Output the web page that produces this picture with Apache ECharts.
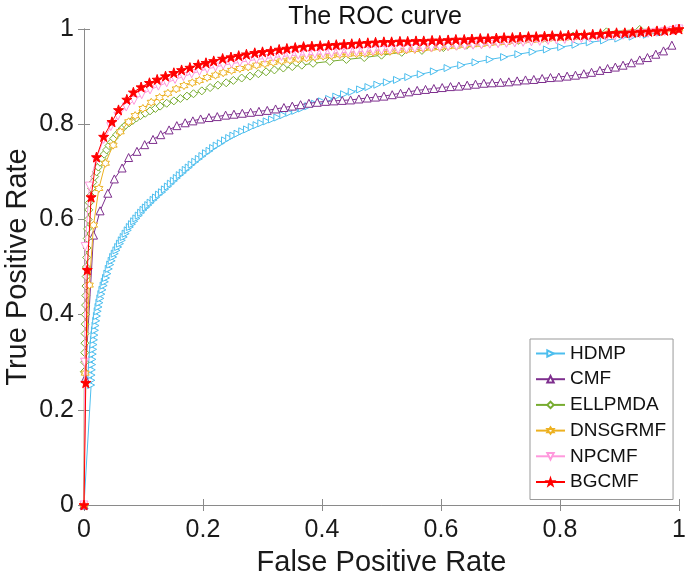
<!DOCTYPE html>
<html>
<head>
    <meta charset="utf-8">
    <title>The ROC curve</title>
    <script src="https://cdn.jsdelivr.net/npm/echarts@6/dist/echarts.min.js"></script>
    <style>
        html, body { margin: 0; padding: 0; background: #fff; }
        #main { width: 685px; height: 577px; }
    </style>
</head>
<body>
<div id="main"></div>
<script type="text/javascript">
    // 数据 [FPR, TPR]
    var names = ['HDMP', 'CMF', 'ELLPMDA', 'DNSGRMF', 'NPCMF', 'BGCMF'];
    var xTicks = [0, 0.2, 0.4, 0.6, 0.8, 1];
    var yTicks = [0, 0.2, 0.4, 0.6, 0.8, 1];

    var hdmp = [[0,0],[0.012,0.252],[0.0123,0.262],[0.0127,0.273],[0.0131,0.284],[0.0136,0.295],[0.0141,0.306],[0.0147,0.317],[0.0153,0.327],[0.016,0.337],[0.0167,0.347],[0.0175,0.357],[0.0184,0.367],[0.0194,0.377],[0.0205,0.387],[0.0217,0.397],[0.023,0.407],[0.0244,0.416],[0.0259,0.425],[0.0275,0.434],[0.0292,0.443],[0.031,0.452],[0.033,0.461],[0.035,0.469],[0.037,0.477],[0.0393,0.486],[0.0416,0.496],[0.044,0.505],[0.0465,0.513],[0.049,0.521],[0.0517,0.528],[0.0545,0.535],[0.0574,0.542],[0.0604,0.549],[0.0635,0.556],[0.0667,0.563],[0.07,0.570],[0.0735,0.577],[0.077,0.584],[0.0806,0.590],[0.0843,0.596],[0.088,0.602],[0.092,0.608],[0.096,0.614],[0.100,0.620],[0.104,0.625],[0.108,0.630],[0.112,0.635],[0.117,0.641],[0.121,0.646],[0.126,0.652],[0.131,0.657],[0.136,0.663],[0.141,0.669],[0.146,0.675],[0.151,0.681],[0.156,0.687],[0.161,0.693],[0.166,0.698],[0.171,0.704],[0.176,0.709],[0.181,0.715],[0.187,0.721],[0.193,0.727],[0.199,0.733],[0.205,0.739],[0.211,0.744],[0.217,0.750],[0.223,0.755],[0.230,0.760],[0.237,0.766],[0.244,0.771],[0.251,0.776],[0.258,0.780],[0.266,0.785],[0.274,0.789],[0.282,0.794],[0.290,0.798],[0.298,0.802],[0.307,0.806],[0.316,0.810],[0.325,0.814],[0.335,0.819],[0.345,0.824],[0.355,0.828],[0.366,0.833],[0.377,0.838],[0.388,0.843],[0.400,0.848],[0.412,0.853],[0.424,0.858],[0.437,0.863],[0.450,0.868],[0.464,0.873],[0.478,0.878],[0.493,0.883],[0.509,0.888],[0.526,0.893],[0.545,0.899],[0.566,0.905],[0.588,0.911],[0.611,0.918],[0.634,0.924],[0.658,0.930],[0.682,0.936],[0.706,0.941],[0.730,0.947],[0.754,0.952],[0.778,0.957],[0.802,0.962],[0.826,0.967],[0.850,0.972],[0.874,0.976],[0.898,0.980],[0.922,0.984],[0.946,0.988],[0.970,0.993],[1,1]];

    var cmf = [[0,0],[0.002,0.266],[0.016,0.567],[0.027,0.618],[0.040,0.655],[0.051,0.685],[0.064,0.708],[0.075,0.730],[0.089,0.743],[0.102,0.757],[0.116,0.768],[0.129,0.778],[0.143,0.788],[0.156,0.797],[0.170,0.803],[0.183,0.807],[0.196,0.811],[0.210,0.814],[0.224,0.816],[0.238,0.819],[0.252,0.821],[0.266,0.823],[0.280,0.825],[0.294,0.827],[0.308,0.829],[0.322,0.832],[0.336,0.835],[0.350,0.838],[0.364,0.841],[0.378,0.844],[0.392,0.846],[0.406,0.848],[0.420,0.849],[0.434,0.850],[0.448,0.851],[0.462,0.853],[0.476,0.855],[0.490,0.857],[0.504,0.859],[0.518,0.862],[0.532,0.865],[0.546,0.868],[0.560,0.871],[0.574,0.873],[0.588,0.875],[0.602,0.877],[0.616,0.879],[0.630,0.880],[0.644,0.882],[0.658,0.884],[0.672,0.886],[0.686,0.887],[0.700,0.888],[0.714,0.889],[0.728,0.891],[0.742,0.893],[0.756,0.894],[0.770,0.896],[0.784,0.898],[0.798,0.899],[0.812,0.901],[0.826,0.903],[0.840,0.906],[0.853,0.909],[0.867,0.913],[0.880,0.917],[0.893,0.920],[0.906,0.924],[0.920,0.929],[0.934,0.935],[0.947,0.940],[0.961,0.947],[0.974,0.954],[0.988,0.966]];

    var ellpmda = [[0,0],[0.0005,0.28],[0.001,0.30],[0.0012,0.32],[0.0015,0.34],[0.0018,0.36],[0.002,0.38],[0.0023,0.40],[0.0026,0.42],[0.003,0.44],[0.0033,0.46],[0.0037,0.48],[0.004,0.50],[0.0045,0.52],[0.005,0.54],[0.0055,0.56],[0.006,0.58],[0.007,0.60],[0.008,0.62],[0.009,0.635],[0.011,0.65],[0.013,0.665],[0.015,0.678],[0.018,0.69],[0.021,0.70],[0.024,0.71],[0.027,0.72],[0.030,0.728],[0.034,0.737],[0.038,0.746],[0.042,0.755],[0.046,0.762],[0.050,0.770],[0.055,0.778],[0.060,0.785],[0.065,0.792],[0.070,0.798],[0.076,0.803],[0.082,0.808],[0.088,0.813],[0.095,0.818],[0.103,0.823],[0.111,0.828],[0.120,0.833],[0.128,0.838],[0.139,0.844],[0.151,0.849],[0.162,0.854],[0.173,0.859],[0.184,0.864],[0.198,0.870],[0.212,0.877],[0.225,0.882],[0.239,0.887],[0.251,0.892],[0.265,0.897],[0.279,0.901],[0.293,0.906],[0.306,0.910],[0.320,0.914],[0.335,0.918],[0.350,0.921],[0.366,0.924],[0.385,0.928],[0.413,0.932],[0.441,0.936],[0.471,0.940],[0.500,0.945],[0.534,0.951],[0.568,0.955],[0.604,0.961],[0.643,0.966],[0.682,0.971],[0.730,0.976],[0.778,0.980],[0.822,0.985],[0.878,0.994],[0.934,0.999],[1,1]];

    var dnsgrmf = [[0,0],[0.002,0.277],[0.009,0.462],[0.016,0.588],[0.025,0.665],[0.036,0.718],[0.049,0.756],[0.061,0.784],[0.075,0.805],[0.086,0.818],[0.099,0.833],[0.113,0.846],[0.127,0.856],[0.141,0.865],[0.155,0.874],[0.168,0.881],[0.182,0.887],[0.194,0.892],[0.207,0.898],[0.221,0.903],[0.234,0.908],[0.248,0.913],[0.262,0.917],[0.276,0.920],[0.290,0.924],[0.304,0.927],[0.318,0.930],[0.332,0.933],[0.346,0.935],[0.360,0.937],[0.374,0.939],[0.388,0.941],[0.402,0.943],[0.416,0.944],[0.430,0.946],[0.444,0.947],[0.458,0.948],[0.472,0.949],[0.486,0.951],[0.500,0.952],[0.514,0.953],[0.528,0.955],[0.542,0.956],[0.556,0.957],[0.570,0.959],[0.584,0.960],[0.598,0.961],[0.612,0.963],[0.626,0.964],[0.640,0.966],[0.654,0.967],[0.668,0.968],[0.682,0.970],[0.696,0.971],[0.710,0.972],[0.724,0.974],[0.738,0.975],[0.752,0.976],[0.766,0.977],[0.780,0.979],[0.794,0.980],[0.808,0.981],[0.822,0.982],[0.836,0.984],[0.850,0.985],[0.864,0.986],[0.878,0.988],[0.892,0.989],[0.906,0.990],[0.920,0.992],[0.934,0.993],[0.948,0.995],[0.962,0.996],[0.976,0.998],[0.990,0.999],[1,1]];

    var npcmf = [[0,0],[0.001,0.300],[0.002,0.543],[0.009,0.670],[0.020,0.725],[0.033,0.768],[0.045,0.795],[0.057,0.817],[0.071,0.836],[0.084,0.850],[0.097,0.862],[0.111,0.872],[0.125,0.880],[0.139,0.887],[0.153,0.894],[0.167,0.900],[0.181,0.906],[0.194,0.911],[0.207,0.916],[0.221,0.920],[0.234,0.924],[0.248,0.927],[0.262,0.930],[0.276,0.933],[0.290,0.936],[0.304,0.938],[0.318,0.940],[0.332,0.942],[0.346,0.944],[0.360,0.945],[0.374,0.946],[0.388,0.947],[0.402,0.948],[0.416,0.949],[0.430,0.950],[0.444,0.951],[0.458,0.952],[0.472,0.953],[0.486,0.954],[0.500,0.955],[0.514,0.956],[0.528,0.957],[0.542,0.958],[0.556,0.959],[0.570,0.960],[0.584,0.961],[0.598,0.962],[0.612,0.963],[0.626,0.964],[0.640,0.965],[0.654,0.966],[0.668,0.967],[0.682,0.968],[0.696,0.969],[0.710,0.970],[0.724,0.971],[0.738,0.972],[0.752,0.973],[0.766,0.974],[0.780,0.976],[0.794,0.977],[0.808,0.978],[0.822,0.979],[0.836,0.980],[0.850,0.981],[0.864,0.983],[0.878,0.984],[0.892,0.985],[0.906,0.987],[0.920,0.988],[0.934,0.990],[0.948,0.991],[0.962,0.993],[0.976,0.995],[0.990,0.997],[1,1]];

    var bgcmf = [[0,0],[0.003,0.257],[0.0055,0.494],[0.012,0.647],[0.021,0.731],[0.033,0.774],[0.047,0.805],[0.058,0.830],[0.072,0.852],[0.083,0.867],[0.096,0.878],[0.110,0.887],[0.123,0.894],[0.137,0.901],[0.151,0.908],[0.164,0.914],[0.178,0.919],[0.192,0.925],[0.205,0.929],[0.218,0.933],[0.233,0.938],[0.247,0.941],[0.260,0.944],[0.273,0.947],[0.287,0.950],[0.300,0.952],[0.314,0.954],[0.328,0.957],[0.341,0.959],[0.355,0.961],[0.369,0.963],[0.383,0.964],[0.397,0.965],[0.411,0.966],[0.424,0.967],[0.437,0.968],[0.450,0.969],[0.463,0.970],[0.477,0.971],[0.490,0.972],[0.504,0.973],[0.517,0.973],[0.531,0.974],[0.544,0.974],[0.558,0.975],[0.571,0.975],[0.585,0.976],[0.598,0.976],[0.612,0.977],[0.625,0.978],[0.639,0.978],[0.652,0.979],[0.666,0.980],[0.679,0.980],[0.693,0.981],[0.706,0.982],[0.720,0.982],[0.733,0.983],[0.747,0.984],[0.760,0.984],[0.774,0.985],[0.787,0.986],[0.801,0.986],[0.814,0.987],[0.828,0.988],[0.841,0.988],[0.855,0.989],[0.868,0.990],[0.882,0.991],[0.895,0.992],[0.909,0.992],[0.922,0.993],[0.936,0.994],[0.949,0.995],[0.963,0.996],[0.976,0.997],[0.990,0.998],[1,1]];

    var colors = ['#4DBEEE', '#7E2F8E', '#77AC30', '#EDB120', '#FF99DD', '#FF0000'];

    // 星形符号 (五角星 / 六角星)
    function starPath(n, inner) {
        var p = [];
        for (var i = 0; i < n * 2; i++) {
            var r = i % 2 === 0 ? 1 : inner;
            var a = -Math.PI / 2 + i * Math.PI / n;
            p.push((r * Math.cos(a) * 10).toFixed(2) + ',' + (r * Math.sin(a) * 10).toFixed(2));
        }
        return 'path://M' + p.join('L') + 'Z';
    }
    var pentagram = starPath(5, 0.40);
    var hexagram = starPath(6, 0.58);

    function makeSeries(i, data, symbol, size, rotate, filled) {
        return {
            name: names[i],
            type: 'line',
            data: data,
            symbol: symbol,
            symbolSize: size,
            symbolRotate: rotate,
            showAllSymbol: true,
            smooth: false,
            lineStyle: { color: colors[i], width: 1 },
            itemStyle: {
                color: filled ? colors[i] : '#fff',
                borderColor: colors[i],
                borderWidth: 1
            },
            emphasis: { disabled: true },
            z: 2 + i
        };
    }

    var axisGray = '#8a8a8a';
    var labelFont = { fontFamily: 'Liberation Sans', fontSize: 25, color: '#1a1a1a' };
    var nameFont = { fontFamily: 'Liberation Sans', fontSize: 29, color: '#1a1a1a' };

    var myChart = echarts.init(document.getElementById('main'));
    var option = {
        animation: false,
        backgroundColor: '#fff',
        title: {
            text: 'The ROC curve',
            left: 370,
            textAlign: 'center',
            top: 0,
            textStyle: { fontFamily: 'Liberation Sans', fontSize: 25, fontWeight: 'normal', color: '#111' }
        },
        color: colors,
        // 不让标签把坐标区挤小
        grid: { left: 84, right: 6, top: 29, bottom: 72, outerBoundsMode: 'none', containLabel: false },
        // 图例
        legend: {
            data: names,
            orient: 'vertical',
            left: 530,
            top: 339,
            itemWidth: 29,
            itemHeight: 8,
            itemGap: 6.7,
            padding: [5, 7, 8, 5],
            borderColor: '#999',
            borderWidth: 1,
            textStyle: { fontFamily: 'Liberation Sans', fontSize: 19, color: '#111' }
        },
        xAxis: [{
            type: 'value',
            min: 0, max: 1, interval: 0.2,
            name: 'False Positive Rate',
            nameLocation: 'middle',
            nameGap: 43,
            nameMoveOverlap: false,
            nameTextStyle: nameFont,
            axisLine: { show: true, lineStyle: { color: axisGray } },
            axisTick: { show: true, inside: true, length: 6, lineStyle: { color: axisGray } },
            axisLabel: Object.assign({ margin: 13 }, labelFont),
            splitLine: { show: false }
        }, {
            type: 'value', position: 'top',
            min: 0, max: 1, interval: 0.2,
            axisLine: { show: true, lineStyle: { color: axisGray } },
            axisTick: { show: true, inside: true, length: 6, lineStyle: { color: axisGray } },
            axisLabel: { show: false },
            splitLine: { show: false }
        }],
        yAxis: [{
            type: 'value',
            min: 0, max: 1, interval: 0.2,
            name: 'True Positive Rate',
            nameLocation: 'middle',
            nameGap: 52,
            nameMoveOverlap: false,
            nameTextStyle: nameFont,
            axisLine: { show: true, lineStyle: { color: axisGray } },
            axisTick: { show: true, inside: true, length: 6, lineStyle: { color: axisGray } },
            axisLabel: Object.assign({ margin: 10 }, labelFont),
            splitLine: { show: false }
        }, {
            type: 'value', position: 'right',
            min: 0, max: 1, interval: 0.2,
            axisLine: { show: true, lineStyle: { color: axisGray } },
            axisTick: { show: true, inside: true, length: 6, lineStyle: { color: axisGray } },
            axisLabel: { show: false },
            splitLine: { show: false }
        }],
        series: [
            makeSeries(0, hdmp, 'triangle', 7, -90, false),
            makeSeries(1, cmf, 'triangle', 8, 0, false),
            makeSeries(2, ellpmda, 'diamond', 8, 0, false),
            makeSeries(3, dnsgrmf, hexagram, 8, 0, false),
            makeSeries(4, npcmf, 'triangle', 8, 180, false),
            makeSeries(5, bgcmf, pentagram, 10, 0, true)
        ]
    };
    myChart.setOption(option);
</script>
</body>
</html>
